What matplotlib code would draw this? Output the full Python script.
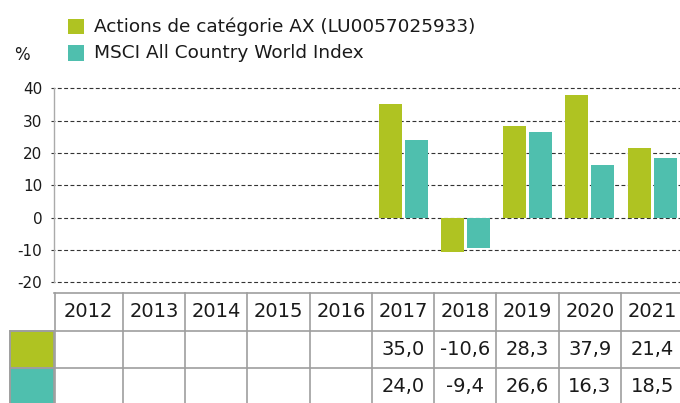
import numpy as np
import matplotlib
matplotlib.use("Agg")
import matplotlib.pyplot as plt
from matplotlib.patches import Rectangle

years = ["2012", "2013", "2014", "2015", "2016", "2017", "2018", "2019", "2020", "2021"]
fund = [np.nan, np.nan, np.nan, np.nan, np.nan, 35.0, -10.6, 28.3, 37.9, 21.4]
index = [np.nan, np.nan, np.nan, np.nan, np.nan, 24.0, -9.4, 26.6, 16.3, 18.5]
series_names = ["Actions de catégorie AX (LU0057025933)", "MSCI All Country World Index"]
yticks = [-20, -10, 0, 10, 20, 30, 40]

GREEN = "#afc322"
TEAL = "#4fbfae"
GRID = "#9e9e9e"
TXT = "#1a1a1a"

plt.rcParams['font.family'] = ['DejaVu Sans']
plt.rcParams['axes.unicode_minus'] = False

W, H = 680, 403
fig = plt.figure(figsize=(W / 100, H / 100), dpi=100)

def px(x, y, w, h):
    # pixel box (from top-left) -> figure fraction
    return [x / W, 1 - (y + h) / H, w / W, h / H]

xl = (-0.608, 9.448)
ax = fig.add_axes(px(54, 88.3, 626, 194))
x = np.arange(len(years))
ax.bar(x - 0.21, fund, width=0.37, color=GREEN, zorder=3)
ax.bar(x + 0.21, index, width=0.37, color=TEAL, zorder=3)
ax.set_xlim(*xl)
ax.set_ylim(-20, 40)
ax.set_yticks(yticks)
ax.set_xticks([])
for t in yticks:
    ax.axhline(t, xmin=-0.004, xmax=1, color="#333333", lw=0.8,
               dashes=(3.5, 2.2), zorder=1, clip_on=False)
for s in ["top", "right", "bottom"]:
    ax.spines[s].set_visible(False)
ax.spines["left"].set_color("#aaaaaa")
ax.spines["left"].set_linewidth(1)
ax.tick_params(axis="y", length=0, pad=8.5, labelsize=11, labelcolor=TXT)

# table under the chart
row_h = 37.5
tab = fig.add_axes(px(54, 293, 626, H - 293))
tab.set_xlim(*xl)
tab.set_ylim((H - 293) / row_h, 0)
tab.axis("off")
n = len(years)
lc = dict(color=GRID, lw=1.2, clip_on=False)
tab.plot([xl[0], 9.5], [0, 0], **lc)
sw_left = xl[0] - (54 - 10) / 62.25
for r in (1, 2):
    tab.plot([sw_left, 9.5], [r, r], **lc)
bounds = [xl[0] + 0.01] + [i + 0.5 for i in range(n - 1)]
for b in bounds:
    tab.plot([b, b], [0, 3], **lc)
tab.plot([sw_left, sw_left], [1, 3], **lc)
for r, c in ((1, GREEN), (2, TEAL)):
    tab.add_patch(Rectangle((sw_left, r), xl[0] - sw_left, 1, facecolor=c,
                            edgecolor=GRID, lw=1.2, clip_on=False))

def fmt(v):
    return "" if np.isnan(v) else f"{v:.1f}".replace(".", ",")

for i, yr in enumerate(years):
    cx = (bounds[0] + 0.5) / 2 if i == 0 else i
    tab.text(cx, 0.5, yr, ha="center", va="center", fontsize=14, color=TXT)
    tab.text(cx, 1.5, fmt(fund[i]), ha="center", va="center", fontsize=14, color=TXT)
    tab.text(cx, 2.5, fmt(index[i]), ha="center", va="center", fontsize=14, color=TXT)

# legend and unit
for (y0, c, name) in ((19, GREEN, series_names[0]), (45.5, TEAL, series_names[1])):
    fig.patches.append(Rectangle((67.5 / W, 1 - (y0 + 15) / H), 16 / W, 15 / H,
                                 facecolor=c, edgecolor="none",
                                 transform=fig.transFigure))
    fig.text(93.5 / W, 1 - (y0 + 8) / H, name, ha="left", va="center",
             fontsize=13.3, color=TXT)
fig.text(14 / W, 1 - 55.5 / H, "%", ha="left", va="center", fontsize=12, color=TXT)

fig.savefig("out.png", dpi=100)
